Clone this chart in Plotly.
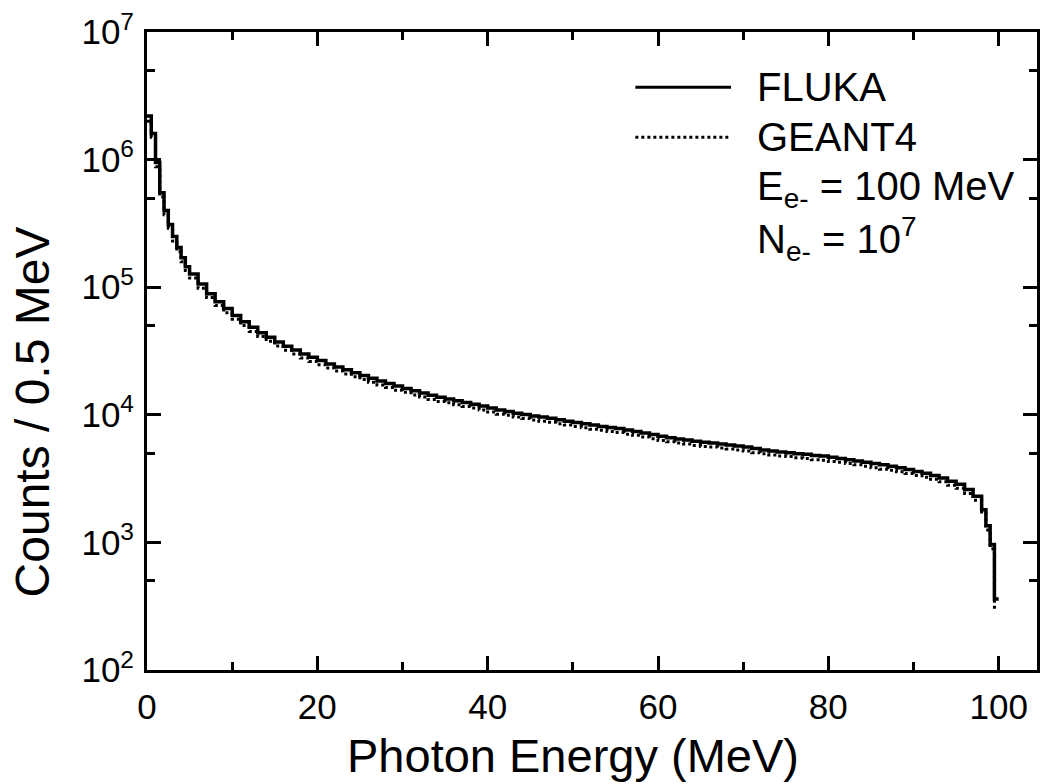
import plotly.graph_objects as go

# ---------------- data ----------------
# bin left edges (MeV); last edge closes the final bin
bin_left = [0, 0.5, 1.0, 1.5, 2.0, 2.5, 3.0, 3.5, 4.0, 4.5] + [float(e) for e in range(5, 98)] + [98.0, 98.5, 99.0, 99.5]
last_edge = 100.0

fluka_counts = [
    2.2e6, 1.6e6, 9.5e5, 5.5e5, 4.0e5, 3.1e5, 2.5e5, 2.05e5, 1.7e5, 1.45e5,
    1.27e5, 1.06e5, 8.9e4, 7.7e4, 6.8e4, 6.0e4, 5.35e4, 4.85e4, 4.4e4, 4.05e4,
    3.72e4, 3.45e4, 3.22e4, 3.0e4, 2.82e4, 2.66e4, 2.5e4, 2.37e4, 2.25e4, 2.14e4,
    2.03e4, 1.93e4, 1.84e4, 1.76e4, 1.68e4, 1.61e4, 1.54e4, 1.48e4, 1.42e4, 1.37e4,
    1.33e4, 1.29e4, 1.25e4, 1.21e4, 1.17e4, 1.13e4, 1.09e4, 1.06e4, 1.03e4, 1.005e4,
    9.8e3, 9.6e3, 9.4e3, 9.15e3, 8.9e3, 8.7e3, 8.5e3, 8.3e3, 8.1e3, 7.95e3,
    7.8e3, 7.6e3, 7.4e3, 7.2e3, 7.0e3, 6.8e3, 6.6e3, 6.45e3, 6.35e3, 6.2e3,
    6.1e3, 6.0e3, 5.9e3, 5.8e3, 5.7e3, 5.6e3, 5.45e3, 5.3e3, 5.2e3, 5.1e3,
    5.05e3, 4.95e3, 4.9e3, 4.8e3, 4.75e3, 4.65e3, 4.55e3, 4.45e3, 4.35e3, 4.25e3,
    4.15e3, 4.05e3, 3.95e3, 3.85e3, 3.72e3, 3.6e3, 3.48e3, 3.35e3, 3.2e3, 3.02e3,
    2.85e3, 2.6e3, 2.3e3,
    1.8e3, 1.35e3, 960, 360,
]

geant4_counts = [
    2.0e6, 1.5e6, 8.8e5, 5.1e5, 3.7e5, 2.9e5, 2.3e5, 1.9e5, 1.58e5, 1.35e5,
    1.18e5, 9.8e4, 8.3e4, 7.2e4, 6.3e4, 5.6e4, 5.0e4, 4.5e4, 4.1e4, 3.77e4,
    3.46e4, 3.21e4, 3.0e4, 2.79e4, 2.62e4, 2.47e4, 2.33e4, 2.2e4, 2.09e4, 1.99e4,
    1.89e4, 1.8e4, 1.71e4, 1.64e4, 1.56e4, 1.5e4, 1.43e4, 1.38e4, 1.32e4, 1.27e4,
    1.24e4, 1.2e4, 1.16e4, 1.13e4, 1.09e4, 1.05e4, 1.01e4, 9.9e3, 9.6e3, 9.35e3,
    9.1e3, 8.9e3, 8.75e3, 8.5e3, 8.3e3, 8.1e3, 7.9e3, 7.7e3, 7.55e3, 7.4e3,
    7.25e3, 7.05e3, 6.9e3, 6.7e3, 6.5e3, 6.3e3, 6.15e3, 6.0e3, 5.9e3, 5.75e3,
    5.65e3, 5.6e3, 5.5e3, 5.4e3, 5.3e3, 5.2e3, 5.05e3, 4.95e3, 4.85e3, 4.75e3,
    4.7e3, 4.6e3, 4.55e3, 4.45e3, 4.4e3, 4.3e3, 4.25e3, 4.15e3, 4.05e3, 3.95e3,
    3.85e3, 3.75e3, 3.68e3, 3.58e3, 3.46e3, 3.35e3, 3.24e3, 3.12e3, 2.98e3, 2.8e3,
    2.65e3, 2.42e3, 2.14e3,
    1.68e3, 1.25e3, 890, 310,
]

x_tick_vals = [0, 20, 40, 60, 80, 100]
x_minor_vals = [10, 30, 50, 70, 90]
y_tick_vals = [1e2, 1e3, 1e4, 1e5, 1e6, 1e7]
y_tick_text = ["10<sup>2</sup>", "10<sup>3</sup>", "10<sup>4</sup>",
               "10<sup>5</sup>", "10<sup>6</sup>", "10<sup>7</sup>"]
y_minor_vals = [5e2, 5e3, 5e4, 5e5, 5e6]

legend_labels = ["FLUKA", "GEANT4"]
note_lines = ["E<sub>e-</sub> = 100 MeV", "N<sub>e-</sub> = 10<sup>7</sup>"]

# ---------------- figure ----------------
FONT = "Liberation Sans, Arial, sans-serif"

def step_xy(counts):
    xs = bin_left + [last_edge]
    ys = counts + [counts[-1]]
    return xs, ys

fig = go.Figure()
xf, yf = step_xy(geant4_counts)
fig.add_trace(go.Scatter(x=xf, y=yf, mode="lines", line_shape="hv",
                         line=dict(color="black", width=3, dash="dot"),
                         name=legend_labels[1], showlegend=False))
xf, yf = step_xy(fluka_counts)
fig.add_trace(go.Scatter(x=xf, y=yf, mode="lines", line_shape="hv",
                         line=dict(color="black", width=3.5),
                         name=legend_labels[0], showlegend=False))

L, R, T, B = 147, 8, 22, 114
W, H = 1048, 784
pw, ph = W - L - R, H - T - B

def px(xp):
    return (xp - L) / pw

def py(yp):
    return (H - B - yp) / ph

fig.update_layout(
    width=W, height=H,
    margin=dict(l=L, r=R, t=T, b=B),
    paper_bgcolor="white", plot_bgcolor="white",
    font=dict(family=FONT, color="black", size=34),
    showlegend=False,
)

fig.update_xaxes(
    range=[0, 104.5], showgrid=False, zeroline=False,
    showline=True, linecolor="black", linewidth=3, mirror="ticks",
    tickmode="array", tickvals=x_tick_vals, ticks="inside", ticklen=14, tickwidth=3,
    tickcolor="black", ticklabelstandoff=4,
    tickfont=dict(family=FONT, size=35, color="black"),
    minor=dict(tickmode="array", tickvals=x_minor_vals, ticks="inside", ticklen=8,
               tickwidth=3, tickcolor="black", showgrid=False),
)
fig.update_yaxes(
    type="log", range=[1.9995, 7.0005], showgrid=False, zeroline=False,
    showline=True, linecolor="black", linewidth=3, mirror="ticks",
    tickmode="array", tickvals=y_tick_vals, ticktext=y_tick_text,
    ticks="inside", ticklen=14, tickwidth=3, tickcolor="black", ticklabelstandoff=3,
    ticklabeloverflow="allow",
    tickfont=dict(family=FONT, size=35, color="black"),
    minor=dict(tickmode="array", tickvals=y_minor_vals, ticks="inside", ticklen=8,
               tickwidth=3, tickcolor="black", showgrid=False),
)

# legend drawn by hand (long sample lines as in the original)
fig.add_shape(type="line", xref="paper", yref="paper",
              x0=px(637), x1=px(733), y0=py(78), y1=py(78),
              line=dict(color="black", width=3))
fig.add_shape(type="line", xref="paper", yref="paper",
              x0=px(637), x1=px(733), y0=py(129), y1=py(129),
              line=dict(color="black", width=3, dash="dot"))
for lab, yy in zip(legend_labels + note_lines, [78, 129, 181, 232]):
    fig.add_annotation(text=lab, xref="paper", yref="paper", x=px(757), y=py(yy),
                       xanchor="left", yanchor="middle", showarrow=False,
                       font=dict(family=FONT, size=40, color="black"))

# axis titles
fig.add_annotation(text="Photon Energy (MeV)", xref="paper", yref="paper",
                   x=px(574), y=py(757), xanchor="center", yanchor="middle",
                   showarrow=False, font=dict(family=FONT, size=47, color="black"))
fig.add_annotation(text="Counts / 0.5 MeV", xref="paper", yref="paper",
                   x=px(32), y=py(408), xanchor="center", yanchor="middle", textangle=-90,
                   showarrow=False, font=dict(family=FONT, size=48, color="black"))

fig.write_html("out.html")
